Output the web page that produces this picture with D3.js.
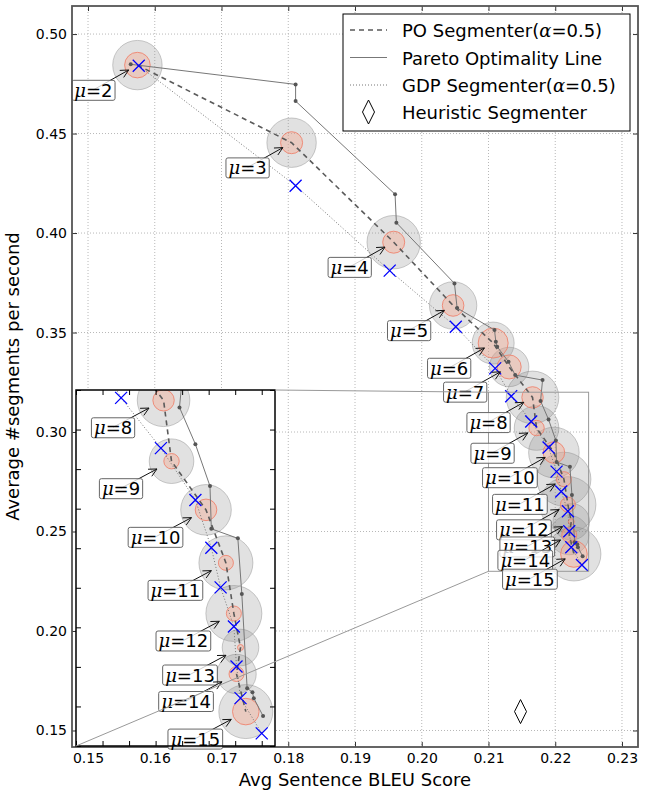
<!DOCTYPE html>
<html>
<head>
<meta charset="utf-8">
<script src="https://cdn.jsdelivr.net/npm/d3@7"></script>
<style>
  body { margin: 0; background: #fff; }
  svg { display: block; font-family: 'DejaVu Sans', sans-serif; }
</style>
</head>
<body>
<div id="chart"></div>
<script>
// --- data ---
const mu = [2, 3, 4, 5, 6, 7, 8, 9, 10, 11, 12, 13, 14, 15]

// PO Segmenter (alpha=0.5)
const poBleu = [0.1574, 0.1805, 0.1958, 0.2047, 0.2107, 0.2131, 0.2166, 0.2172, 0.2198, 0.2213, 0.2219, 0.2224, 0.2221, 0.2228]
const poRate = [0.4844, 0.4454, 0.3954, 0.3636, 0.3447, 0.3327, 0.3174, 0.3020, 0.2897, 0.2763, 0.2635, 0.2549, 0.2482, 0.2387]
// spread around each PO point (outer grey disc / inner red disc)
const poSpreadOuter = [24.7, 24.7, 26.7, 23.7, 21, 19.7, 26.3, 22.3, 25.3, 27, 28, 18.3, 19.7, 27]
const poSpreadInner = [12.8, 11, 11, 10.8, 15, 12, 10.7, 7.7, 10.8, 7.5, 7.5, 3, 7.5, 13.3]

// GDP Segmenter (alpha=0.5)
const gdpBleu = [0.1576, 0.1811, 0.1952, 0.2051, 0.2110, 0.2134, 0.2164, 0.2190, 0.2202, 0.2209, 0.2219, 0.2221, 0.2224, 0.2240]
const gdpRate = [0.4841, 0.4238, 0.3811, 0.3529, 0.3320, 0.3180, 0.3053, 0.2922, 0.2801, 0.2701, 0.2602, 0.2501, 0.2421, 0.2332]

// Pareto optimality line
const paretoBleu = [0.1564, 0.1811, 0.1811, 0.1960, 0.1962, 0.2049, 0.2053, 0.2109, 0.2111, 0.2113, 0.2130, 0.2140, 0.2181, 0.2178, 0.2190, 0.2201, 0.2202, 0.2222, 0.2225, 0.2229, 0.2233, 0.2234, 0.2241]
const paretoRate = [0.4848, 0.4747, 0.4663, 0.4195, 0.4052, 0.3747, 0.3623, 0.3513, 0.3454, 0.3429, 0.3353, 0.3286, 0.3261, 0.3156, 0.3063, 0.2957, 0.2849, 0.2825, 0.2684, 0.2446, 0.2436, 0.2421, 0.2376]

// Heuristic segmenter
const heurBleu = [0.2148]
const heurRate = [0.1595]

const xTicks = [0.15, 0.16, 0.17, 0.18, 0.19, 0.20, 0.21, 0.22, 0.23]
const yTicks = [0.15, 0.20, 0.25, 0.30, 0.35, 0.40, 0.45, 0.50]
const insetXTicks = [0.210, 0.212, 0.214, 0.216, 0.218, 0.220, 0.222, 0.224]
const insetYTicks = [0.23, 0.24, 0.25, 0.26, 0.27, 0.28, 0.29, 0.30, 0.31, 0.32]
const insetXDomain = [0.210, 0.225]
const insetYDomain = [0.230, 0.320]
const insetMu = [8, 9, 10, 11, 12, 13, 14, 15]

const legendItems = ['PO Segmenter', 'Pareto Optimality Line', 'GDP Segmenter', 'Heuristic Segmenter']

// --- layout ---
const W = 654, H = 792
const plot = { left: 72, right: 638, top: 6, bottom: 747 }
const ins = { left: 76, right: 275, top: 390, bottom: 746 }

const x = d3.scaleLinear().domain([0.1476, 0.2324]).range([plot.left, plot.right])
const y = d3.scaleLinear().domain([0.1417, 0.5141]).range([plot.bottom, plot.top])
const xi = d3.scaleLinear().domain(insetXDomain).range([ins.left, ins.right])
const yi = d3.scaleLinear().domain(insetYDomain).range([ins.bottom, ins.top])
const rScale = d3.scaleLinear().domain([0, 1]).range([0, 1])

const svg = d3.select('#chart').append('svg').attr('width', W).attr('height', H)
const defs = svg.append('defs')
defs.append('clipPath').attr('id', 'clipMain').append('rect')
  .attr('x', plot.left).attr('y', plot.top)
  .attr('width', plot.right - plot.left).attr('height', plot.bottom - plot.top)
defs.append('clipPath').attr('id', 'clipInset').append('rect')
  .attr('x', ins.left).attr('y', ins.top)
  .attr('width', ins.right - ins.left).attr('height', ins.bottom - ins.top)

const idx = d3.range(mu.length)

function drawMarks(g, xs, ys) {
  // grey discs then red discs
  g.append('g').selectAll('circle').data(idx).join('circle')
    .attr('cx', i => xs(poBleu[i])).attr('cy', i => ys(poRate[i]))
    .attr('r', i => rScale(poSpreadOuter[i]))
    .attr('fill', '#8c8c8c').attr('fill-opacity', 0.26)
    .attr('stroke', '#8c8c8c').attr('stroke-opacity', 0.45).attr('stroke-width', 1)
  g.append('g').selectAll('circle').data(idx).join('circle')
    .attr('cx', i => xs(poBleu[i])).attr('cy', i => ys(poRate[i]))
    .attr('r', i => rScale(poSpreadInner[i]))
    .attr('fill', '#f7a58c').attr('fill-opacity', 0.38)
    .attr('stroke', '#f07a64').attr('stroke-opacity', 0.8).attr('stroke-width', 1)

  // pareto line with small dots
  const pIdx = d3.range(paretoBleu.length)
  const pLine = d3.line().x(i => xs(paretoBleu[i])).y(i => ys(paretoRate[i]))
  g.append('path').datum(pIdx).attr('d', pLine)
    .attr('fill', 'none').attr('stroke', '#777').attr('stroke-width', 1)
  g.append('g').selectAll('circle').data(pIdx).join('circle')
    .attr('cx', i => xs(paretoBleu[i])).attr('cy', i => ys(paretoRate[i]))
    .attr('r', 2).attr('fill', '#555')

  // PO dashed line
  const poLine = d3.line().x(i => xs(poBleu[i])).y(i => ys(poRate[i]))
  g.append('path').datum(idx).attr('d', poLine)
    .attr('fill', 'none').attr('stroke', '#5a5a5a').attr('stroke-width', 1.6)
    .attr('stroke-dasharray', '5,4')

  // GDP dotted line + blue crosses
  const gdpLine = d3.line().x(i => xs(gdpBleu[i])).y(i => ys(gdpRate[i]))
  g.append('path').datum(idx).attr('d', gdpLine)
    .attr('fill', 'none').attr('stroke', '#777').attr('stroke-width', 1)
    .attr('stroke-dasharray', '1,2')
  const s = 6
  g.append('g').selectAll('path').data(idx).join('path')
    .attr('d', i => {
      const cx = xs(gdpBleu[i]), cy = ys(gdpRate[i])
      return `M${cx - s},${cy - s}L${cx + s},${cy + s}M${cx - s},${cy + s}L${cx + s},${cy - s}`
    })
    .attr('stroke', '#0000ff').attr('stroke-width', 1.3).attr('fill', 'none')
}

function drawLabels(g, xs, ys, list, off, shrink) {
  list.forEach(m => {
    const i = mu.indexOf(m)
    const px = xs(poBleu[i]), py = ys(poRate[i])
    const lx = px + off[0], ly = py + off[1]
    const dx = px - lx, dy = py - ly, len = Math.hypot(dx, dy)
    const ux = dx / len, uy = dy / len
    const tx = px - ux * shrink, ty = py - uy * shrink
    const a = g.append('g')
    // arrow
    const hl = 8, hw = 4
    const bx = tx - ux * hl, by = ty - uy * hl
    a.append('path')
      .attr('d', `M${lx},${ly}L${tx},${ty}M${bx - uy * hw},${by + ux * hw}L${tx},${ty}L${bx + uy * hw},${by - ux * hw}`)
      .attr('stroke', '#111').attr('stroke-width', 1).attr('fill', 'none')
    const box = a.append('rect')
    const t = a.append('text').attr('x', lx).attr('y', ly)
      .attr('text-anchor', 'middle').attr('dominant-baseline', 'central')
      .attr('font-size', 18).attr('fill', '#000')
    t.append('tspan').attr('font-family', 'DejaVu Serif').attr('font-style', 'italic').text('μ')
    t.append('tspan').text('=' + m)
    const bb = t.node().getBBox()
    box.attr('x', bb.x - 2.5).attr('y', bb.y + 1).attr('width', bb.width + 5).attr('height', bb.height - 1)
      .attr('rx', 2).attr('fill', '#fff').attr('fill-opacity', 0.8)
      .attr('stroke', '#666').attr('stroke-width', 1)
  })
}

// --- main axes ---
const main = svg.append('g')
const grid = main.append('g').attr('stroke', '#b8b8b8').attr('stroke-width', 1).attr('stroke-dasharray', '1,2')
grid.selectAll('.gx').data(xTicks).join('line')
  .attr('x1', d => x(d)).attr('x2', d => x(d)).attr('y1', plot.top).attr('y2', plot.bottom)
grid.selectAll('.gy').data(yTicks).join('line')
  .attr('y1', d => y(d)).attr('y2', d => y(d)).attr('x1', plot.left).attr('x2', plot.right)

const mainMarks = main.append('g').attr('clip-path', 'url(#clipMain)')
drawMarks(mainMarks, x, y)

// heuristic diamond
mainMarks.append('g').selectAll('path').data(d3.range(heurBleu.length)).join('path')
  .attr('d', i => {
    const cx = x(heurBleu[i]), cy = y(heurRate[i])
    return `M${cx},${cy - 12}L${cx + 6},${cy}L${cx},${cy + 12}L${cx - 6},${cy}Z`
  })
  .attr('fill', '#fff').attr('stroke', '#000').attr('stroke-width', 1)

// zoom rectangle
main.append('rect')
  .attr('x', x(insetXDomain[0])).attr('y', y(insetYDomain[1]))
  .attr('width', x(insetXDomain[1]) - x(insetXDomain[0]))
  .attr('height', y(insetYDomain[0]) - y(insetYDomain[1]))
  .attr('fill', 'none').attr('stroke', '#999').attr('stroke-width', 1)

drawLabels(main.append('g'), x, y, mu, [-44, 24.7], 10)

// axes ticks (inward, all sides)
const axStyle = g => g.call(g => g.select('.domain').remove())
  .call(g => g.selectAll('.tick line').attr('stroke', '#333'))
  .call(g => g.selectAll('.tick text').attr('font-size', 14).attr('font-family', 'DejaVu Sans').attr('fill', '#000'))
main.append('g').attr('transform', `translate(0,${plot.bottom})`)
  .call(d3.axisBottom(x).tickValues(xTicks).tickSize(-5).tickPadding(6).tickFormat(d3.format('.2f'))).call(axStyle)
main.append('g').attr('transform', `translate(0,${plot.top})`)
  .call(d3.axisTop(x).tickValues(xTicks).tickSize(-5).tickFormat('')).call(axStyle)
main.append('g').attr('transform', `translate(${plot.left},0)`)
  .call(d3.axisLeft(y).tickValues(yTicks).tickSize(-5).tickPadding(5).tickFormat(d3.format('.2f'))).call(axStyle)
main.append('g').attr('transform', `translate(${plot.right},0)`)
  .call(d3.axisRight(y).tickValues(yTicks).tickSize(-5).tickFormat('')).call(axStyle)

main.append('rect').attr('x', plot.left).attr('y', plot.top)
  .attr('width', plot.right - plot.left).attr('height', plot.bottom - plot.top)
  .attr('fill', 'none').attr('stroke', '#555').attr('stroke-width', 1.8)

// axis titles
svg.append('text').attr('x', (plot.left + plot.right) / 2).attr('y', 786)
  .attr('text-anchor', 'middle').attr('font-size', 18).text('Avg Sentence BLEU Score')
svg.append('text').attr('transform', `translate(19,${(plot.top + plot.bottom) / 2}) rotate(-90)`)
  .attr('text-anchor', 'middle').attr('font-size', 18).text('Average #segments per second')

// legend
const lg = svg.append('g')
lg.append('rect').attr('x', 343).attr('y', 14).attr('width', 287).attr('height', 117)
  .attr('fill', '#fff').attr('stroke', '#000').attr('stroke-width', 1)
const rowY = [30, 57.5, 85, 112]
const hx0 = 350, hx1 = 387, tx0 = 402
lg.append('line').attr('x1', hx0).attr('x2', hx1).attr('y1', rowY[0]).attr('y2', rowY[0])
  .attr('stroke', '#5a5a5a').attr('stroke-width', 1.6).attr('stroke-dasharray', '5,4')
lg.append('line').attr('x1', hx0).attr('x2', hx1).attr('y1', rowY[1]).attr('y2', rowY[1])
  .attr('stroke', '#777').attr('stroke-width', 1)
lg.append('line').attr('x1', hx0).attr('x2', hx1).attr('y1', rowY[2]).attr('y2', rowY[2])
  .attr('stroke', '#777').attr('stroke-width', 1).attr('stroke-dasharray', '1,2')
const dcx = (hx0 + hx1) / 2
lg.append('path').attr('d', `M${dcx},${rowY[3] - 12}L${dcx + 6},${rowY[3]}L${dcx},${rowY[3] + 12}L${dcx - 6},${rowY[3]}Z`)
  .attr('fill', '#fff').attr('stroke', '#000').attr('stroke-width', 1)
legendItems.forEach((name, k) => {
  const t = lg.append('text').attr('x', tx0).attr('y', rowY[k]).attr('dominant-baseline', 'central')
    .attr('font-size', 18).attr('fill', '#000')
  t.append('tspan').text(name)
  if (k === 0 || k === 2) {
    t.append('tspan').text('(')
    t.append('tspan').attr('font-family', 'DejaVu Serif').attr('font-style', 'italic').text('α')
    t.append('tspan').text('=0.5)')
  }
})

// --- inset ---
const inset = svg.append('g')
inset.append('rect').attr('x', ins.left).attr('y', ins.top)
  .attr('width', ins.right - ins.left).attr('height', ins.bottom - ins.top).attr('fill', '#fff')
const insetMarks = inset.append('g').attr('clip-path', 'url(#clipInset)')
drawMarks(insetMarks, xi, yi)
drawLabels(inset.append('g'), xi, yi, insetMu, [-50.5, 27], 16.5)

const inAx = g => g.call(g => g.select('.domain').remove())
  .call(g => g.selectAll('.tick line').attr('stroke', '#000'))
inset.append('g').attr('transform', `translate(0,${ins.bottom})`)
  .call(d3.axisBottom(xi).tickValues(insetXTicks).tickSize(-5).tickFormat('')).call(inAx)
inset.append('g').attr('transform', `translate(0,${ins.top})`)
  .call(d3.axisTop(xi).tickValues(insetXTicks).tickSize(-5).tickFormat('')).call(inAx)
inset.append('g').attr('transform', `translate(${ins.left},0)`)
  .call(d3.axisLeft(yi).tickValues(insetYTicks).tickSize(-5).tickFormat('')).call(inAx)
inset.append('g').attr('transform', `translate(${ins.right},0)`)
  .call(d3.axisRight(yi).tickValues(insetYTicks).tickSize(-5).tickFormat('')).call(inAx)
inset.append('rect').attr('x', ins.left).attr('y', ins.top)
  .attr('width', ins.right - ins.left).attr('height', ins.bottom - ins.top)
  .attr('fill', 'none').attr('stroke', '#000').attr('stroke-width', 1.5)

// connector lines from inset corners to the zoom rectangle
const conn = svg.append('g').attr('stroke', '#999').attr('stroke-width', 1)
conn.append('line').attr('x1', ins.right).attr('y1', ins.top)
  .attr('x2', x(insetXDomain[0])).attr('y2', y(insetYDomain[1]))
conn.append('line').attr('x1', ins.left).attr('y1', ins.bottom)
  .attr('x2', x(insetXDomain[0])).attr('y2', y(insetYDomain[0]))
</script>
</body>
</html>
